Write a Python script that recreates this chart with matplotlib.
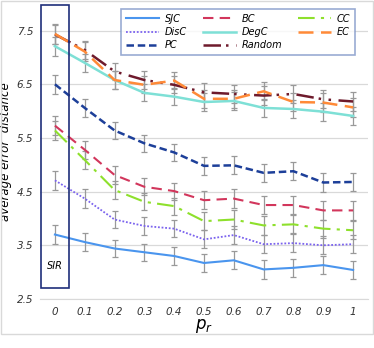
import matplotlib
matplotlib.use("Agg")
import matplotlib.pyplot as plt
from matplotlib.patches import Rectangle

# x categories (p_r)
pr_labels = ["0", "0.1", "0.2", "0.3", "0.4", "0.5", "0.6", "0.7", "0.8", "0.9", "1"]

# average error distance per method
sjc = [3.70, 3.56, 3.44, 3.37, 3.30, 3.17, 3.22, 3.05, 3.08, 3.13, 3.04]
disc = [4.71, 4.37, 3.98, 3.86, 3.81, 3.61, 3.69, 3.52, 3.54, 3.50, 3.52]
pc = [6.50, 6.06, 5.64, 5.40, 5.23, 4.98, 4.99, 4.85, 4.88, 4.67, 4.68]
bc = [5.73, 5.28, 4.81, 4.59, 4.51, 4.34, 4.37, 4.25, 4.25, 4.15, 4.15]
degc = [7.21, 6.90, 6.58, 6.34, 6.27, 6.17, 6.19, 6.06, 6.04, 5.99, 5.91]
rand = [7.43, 7.14, 6.74, 6.58, 6.49, 6.35, 6.32, 6.29, 6.32, 6.22, 6.18]
cc = [5.64, 5.09, 4.53, 4.31, 4.23, 3.95, 3.98, 3.87, 3.89, 3.81, 3.78]
ec = [7.44, 7.11, 6.58, 6.49, 6.57, 6.23, 6.23, 6.37, 6.17, 6.16, 6.07]

# error bar half-length
err = [0.18, 0.17, 0.16, 0.16, 0.16, 0.17, 0.17, 0.17, 0.17, 0.17, 0.17]

x = list(range(len(pr_labels)))

fig = plt.figure(figsize=(3.74, 3.48), dpi=100)
ax = fig.add_axes([0.107, 0.141, 0.877, 0.848])

series = [
    ("SJC", sjc, "#4a95ee", "-", 1.5),
    ("DisC", disc, "#7b63ee", (0, (1, 1)), 1.3),
    ("PC", pc, "#1d3f99", (0, (3, 1.5)), 1.8),
    ("BC", bc, "#d2365c", (0, (5, 3)), 1.5),
    ("DegC", degc, "#7ee0d6", "-", 1.8),
    ("Random", rand, "#6e1a2c", (0, (7, 2, 1, 3, 1, 3)), 1.8),
    ("CC", cc, "#8ee02c", (0, (8, 3, 1.5, 3)), 1.5),
    ("EC", ec, "#ff8a38", (0, (6, 3)), 1.8),
]

for name, vals, col, ls, lw in series:
    ax.errorbar(x, vals, yerr=err, fmt="none", ecolor="#999999",
                elinewidth=0.9, capsize=2.5, capthick=0.9, zorder=2)
for name, vals, col, ls, lw in series:
    ax.plot(x, vals, color=col, linestyle=ls, linewidth=lw, label=name, zorder=3)

ax.set_xlim(-0.5, 10.5)
ax.set_ylim(2.5, 8.0)
ax.set_yticks([2.5, 3.5, 4.5, 5.5, 6.5, 7.5])
ax.set_yticklabels(["2.5", "3.5", "4.5", "5.5", "6.5", "7.5"], fontstyle="italic", fontsize=7.5, color="#333333")
ax.set_xticks(x)
ax.set_xticklabels(pr_labels, fontstyle="italic", fontsize=7.5, color="#333333")
ax.tick_params(axis="x", length=0, pad=6)
ax.tick_params(axis="y", length=0, pad=5)
ax.grid(axis="y", color="#d9d9d9", linewidth=0.9)
ax.set_axisbelow(True)
for s in ["top", "right", "left"]:
    ax.spines[s].set_visible(False)
ax.spines["bottom"].set_color("#d9d9d9")

ax.set_xlabel("$p_r$", fontsize=12, labelpad=0)
ax.set_ylabel("average error  distance", fontstyle="italic", fontsize=8.5, labelpad=3)

# highlight box around p_r = 0
ax.add_patch(Rectangle((-0.47, 2.71), 0.94, 5.26, fill=False, edgecolor="#1f2f7a",
                       linewidth=1.2, zorder=4, clip_on=False))
ax.text(0, 3.11, "SIR", fontstyle="italic", fontsize=7, ha="center", va="center")

leg = ax.legend(ncol=3, loc="upper right", bbox_to_anchor=(0.975, 1.0),
                prop={"style": "italic", "size": 7}, frameon=True, fancybox=False,
                handlelength=3.4, columnspacing=1.6, handletextpad=0.6,
                labelspacing=0.35, borderpad=0.5)
leg.get_frame().set_edgecolor("#8096c8")
leg.get_frame().set_linewidth(1.2)

# outer border of the chart
fig.patches.append(Rectangle((0.003, 0.04), 0.994, 0.957, fill=False, edgecolor="#d9d9d9",
                             linewidth=1.0, transform=fig.transFigure, figure=fig))

fig.savefig("out.png", dpi=100)
